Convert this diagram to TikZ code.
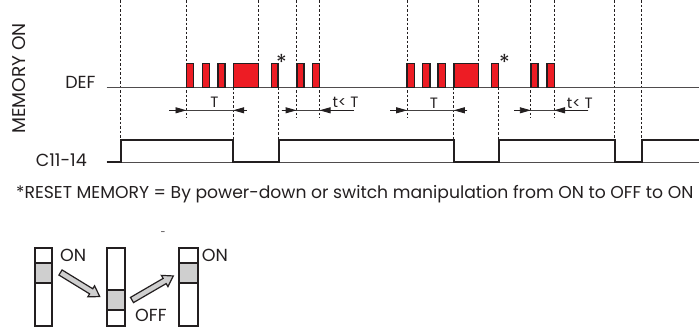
\documentclass[tikz,border=0pt]{standalone}
\usepackage{fontspec}
\setmainfont{Poppins}
\usetikzlibrary{arrows.meta}
\definecolor{ink}{HTML}{231F20}
\definecolor{pred}{HTML}{ED1C24}
\definecolor{swgray}{HTML}{CFCFCF}
\begin{document}
\begin{tikzpicture}[x=1pt,y=-1pt,
  every node/.style={inner sep=0pt, text=ink},
  lbl/.style={font=\fontsize{17.5}{20}\selectfont},
  memlbl/.style={font=\fontsize{18.5}{20}\selectfont},
  small/.style={font=\fontsize{15}{18}\selectfont},
  foot/.style={font=\fontsize{17.2}{20}\selectfont},
  starlbl/.style={font=\fontsize{22}{24}\selectfont},
  pulse/.style={draw=ink, fill=pred, line width=1.5pt},
  base/.style={draw=ink!80, line width=0.9pt},
  sig/.style={draw=ink, line width=2pt, line join=miter},
  guide/.style={draw=ink, line width=0.7pt, dash pattern=on 2.5pt off 2pt},
  dim/.style={draw=ink!85, line width=0.9pt},
  dimtip/.style={-{Triangle[length=11pt,width=6pt]}, draw=ink, fill=ink, line width=0.9pt},
  swbox/.style={draw=ink, line width=2pt},
  swknob/.style={draw=ink, fill=swgray, line width=2pt},
  blockarrow/.style={draw=ink, fill=swgray, line width=1.2pt, line join=miter}
]
\useasboundingbox (0,0) rectangle (699,327);

% dashed guides
\draw[guide] (120.7,0) -- (120.7,139.3);
\draw[guide] (186.5,0) -- (186.5,117.5);
\draw[guide] (258.7,0) -- (258.7,63);
\draw[guide] (233.2,87) -- (233.2,139.3);
\draw[guide] (278.8,87) -- (278.8,139.3);
\draw[guide] (296.6,0) -- (296.6,117.5);
\draw[guide] (319.6,0) -- (319.6,117.5);
\draw[guide] (407.2,0) -- (407.2,117.5);
\draw[guide] (478.7,0) -- (478.7,63);
\draw[guide] (453.8,87) -- (453.8,139.3);
\draw[guide] (498.8,87) -- (498.8,139.3);
\draw[guide] (530.8,0) -- (530.8,117.5);
\draw[guide] (554,0) -- (554,117.5);
\draw[guide] (614.6,0) -- (614.6,139.3);
\draw[guide] (641.8,0) -- (641.8,139.3);

% baselines
\draw[base] (106.7,87.3) -- (699,87.3);
\draw[base] (106.7,162) -- (699,162);

% DEF pulses, group 1
\draw[pulse] (186.5,63.4) rectangle (193.5,87.3);
\draw[pulse] (202.5,63.4) rectangle (209.3,87.3);
\draw[pulse] (218.1,63.4) rectangle (225.2,87.3);
\draw[pulse] (233.5,63.4) rectangle (258.5,87.3);
\draw[pulse] (271.5,63.4) rectangle (277.9,87.3);
\draw[pulse] (296.8,63.4) rectangle (304.2,87.3);
\draw[pulse] (312.5,63.4) rectangle (319.5,87.3);
% DEF pulses, group 2
\draw[pulse] (407.2,63.4) rectangle (414.5,87.3);
\draw[pulse] (422.6,63.4) rectangle (430,87.3);
\draw[pulse] (438,63.4) rectangle (445.6,87.3);
\draw[pulse] (454,63.4) rectangle (478.5,87.3);
\draw[pulse] (491.6,63.4) rectangle (498.3,87.3);
\draw[pulse] (531,63.4) rectangle (538.2,87.3);
\draw[pulse] (547.2,63.4) rectangle (554.3,87.3);

% C11-14 signal
\draw[sig] (106.7,162) -- (120.7,162) -- (120.7,139.8) -- (233.2,139.8) -- (233.2,162)
  -- (278.8,162) -- (278.8,139.8) -- (453.8,139.8) -- (453.8,162) -- (498.8,162)
  -- (498.8,139.8) -- (614.6,139.8) -- (614.6,162) -- (641.8,162) -- (641.8,139.8) -- (699,139.8);

% dimension arrows
\coordinate (d1a) at (169,110.3);   \coordinate (d1b) at (186.5,110.3);
\coordinate (d1c) at (233.2,110.3); \coordinate (d1d) at (246.7,110.3);
\draw[dim] (d1a) -- (d1d);
\draw[dimtip] (d1a) -- (d1b);
\draw[dimtip] (d1d) -- (d1c);

\coordinate (d2a) at (281.7,110.3); \coordinate (d2b) at (296.6,110.3);
\coordinate (d2c) at (319.6,110.3); \coordinate (d2d) at (354,110.3);
\draw[dim] (d2a) -- (d2d);
\draw[dimtip] (d2a) -- (d2b);
\draw[dimtip] (d2d) -- (d2c);

\coordinate (d3a) at (390,110.3);   \coordinate (d3b) at (407.2,110.3);
\coordinate (d3c) at (453.8,110.3); \coordinate (d3d) at (467.3,110.3);
\draw[dim] (d3a) -- (d3d);
\draw[dimtip] (d3a) -- (d3b);
\draw[dimtip] (d3d) -- (d3c);

\coordinate (d4a) at (514,110.3);   \coordinate (d4b) at (530.8,110.3);
\coordinate (d4c) at (554,110.3);   \coordinate (d4d) at (588.3,110.3);
\draw[dim] (d4a) -- (d4d);
\draw[dimtip] (d4a) -- (d4b);
\draw[dimtip] (d4d) -- (d4c);

% labels
\node[small, anchor=base] (T1) at (214.5,107.3) {T};
\node[small, anchor=base west] (tT1) at (332.5,107.8) {t< T};
\node[small, anchor=base] (T2) at (434,108) {T};
\node[small, anchor=base west] (tT2) at (566.7,108.3) {t< T};
\node[starlbl, anchor=base] (s1) at (281.5,70) {*};
\node[starlbl, anchor=base] (s2) at (504.5,70) {*};

\node[lbl, anchor=base east] (def) at (95.7,88.3) {DEF};
\node[lbl, anchor=base east] (c11) at (87,166) {C11-14};
\node[memlbl, anchor=base, rotate=90] (mem) at (25,78.5) {MEMORY ON};

\node[foot, anchor=base west] (note) at (16,198.3) {*RESET MEMORY = By power-down or switch manipulation from ON to OFF to ON};

% switches
\draw[swbox] (34.5,247.5) rectangle (52.3,325.5);
\draw[swknob] (34.5,262.7) rectangle (52.3,282.7);
\draw[swbox] (106.8,247.5) rectangle (125.4,325.5);
\draw[swknob] (106.8,289.5) rectangle (125.4,309.7);
\draw[swbox] (179,247.5) rectangle (197.5,325.5);
\draw[swknob] (179,262.7) rectangle (197.5,282.7);

\node[lbl, anchor=base west] (on1) at (60,261) {ON};
\node[lbl, anchor=base west] (off) at (135,321.5) {OFF};
\node[lbl, anchor=base west] (on3) at (201.7,261) {ON};
\node[font=\fontsize{9}{9}\selectfont] (dash) at (163,234) {-};

% block arrows between switches
\begin{scope}[shift={(60.5,272.5)}, rotate=-31.5]
  \draw[blockarrow] (0,-3) -- (36,-3) -- (36,-6.5) -- (46,0) -- (36,6.5) -- (36,3) -- (0,3) -- cycle;
\end{scope}
\begin{scope}[shift={(132,300)}, rotate=30.2]
  \draw[blockarrow] (0,-3) -- (37.8,-3) -- (37.8,-6.5) -- (47.8,0) -- (37.8,6.5) -- (37.8,3) -- (0,3) -- cycle;
\end{scope}
\end{tikzpicture}
\end{document}
